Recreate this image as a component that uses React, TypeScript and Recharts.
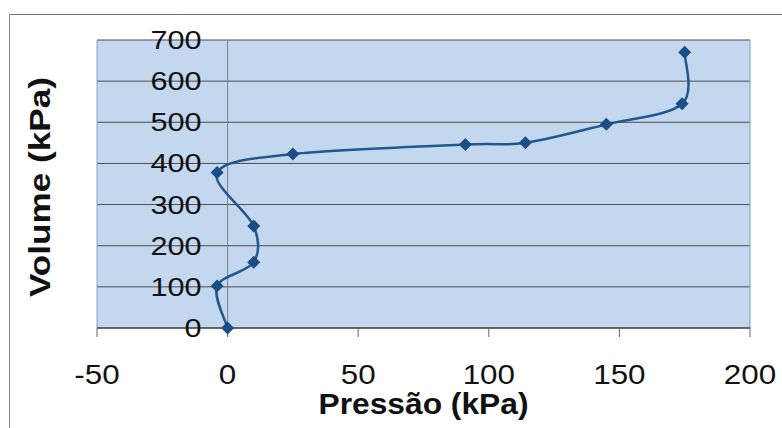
import {
  CartesianGrid,
  Line,
  LineChart,
  ReferenceLine,
  XAxis,
  YAxis,
} from "recharts";

// Pressão x Volume (leituras do ensaio)
const pressao = [0, -4, 10, 10, -4, 25, 91, 114, 145, 174, 175];
const volume = [0, 102, 160, 248, 378, 423, 446, 450, 495, 545, 670];

const xTicks = [-50, 0, 50, 100, 150, 200];
const yTicks = [0, 100, 200, 300, 400, 500, 600, 700];

const data = pressao.map((p, i) => ({ p, v: volume[i] }));

const FONT = '"Liberation Sans", Arial, sans-serif';
const PLOT_LEFT = 97;
const PLOT_W = 653;

// largura aproximada (Arial) para esticar os rótulos como no original
const advance = (s: string, size: number) =>
  s.split("").reduce((w, c) => w + (c === "-" ? 0.333 : 0.556), 0) * size;

// suavização tipo Excel (Catmull-Rom em Bézier)
function excelSmooth(context: any) {
  let pts: number[][] = [];
  return {
    areaStart() {},
    areaEnd() {},
    lineStart() {
      pts = [];
    },
    point(x: number, y: number) {
      pts.push([+x, +y]);
    },
    lineEnd() {
      if (!pts.length) return;
      context.moveTo(pts[0][0], pts[0][1]);
      for (let i = 0; i < pts.length - 1; i++) {
        const p0 = pts[i - 1] || pts[i];
        const p1 = pts[i];
        const p2 = pts[i + 1];
        const p3 = pts[i + 2] || p2;
        context.bezierCurveTo(
          p1[0] + (p2[0] - p0[0]) / 6,
          p1[1] + (p2[1] - p0[1]) / 6,
          p2[0] - (p3[0] - p1[0]) / 6,
          p2[1] - (p3[1] - p1[1]) / 6,
          p2[0],
          p2[1]
        );
      }
    },
  };
}

function Diamond(props: any) {
  const { cx, cy } = props;
  if (cx == null || cy == null) return null;
  return (
    <path
      d={`M${cx},${cy - 6.5}L${cx + 6.5},${cy}L${cx},${cy + 6.5}L${cx - 6.5},${cy}Z`}
      fill="#1b4d86"
    />
  );
}

function XTick(props: any) {
  const { x, y, payload } = props;
  const s = String(payload.value);
  return (
    <text
      x={x}
      y={y}
      dy={45}
      textAnchor="middle"
      fontFamily={FONT}
      fontSize={28}
      fill="#111"
      textLength={advance(s, 28) * 1.12}
      lengthAdjust="spacingAndGlyphs"
    >
      {s}
    </text>
  );
}

// eixo vertical cruza em x = 0
const zeroX =
  PLOT_LEFT + ((0 - xTicks[0]) / (xTicks[xTicks.length - 1] - xTicks[0])) * PLOT_W;

function YTick(props: any) {
  const { y, payload } = props;
  const s = String(payload.value);
  return (
    <text
      x={zeroX - 26}
      y={y}
      dy={9}
      textAnchor="end"
      fontFamily={FONT}
      fontSize={26}
      fill="#111"
      textLength={advance(s, 26) * 1.18}
      lengthAdjust="spacingAndGlyphs"
    >
      {s}
    </text>
  );
}

function XTitle(props: any) {
  const { viewBox } = props;
  return (
    <text
      x={viewBox.x + viewBox.width / 2}
      y={viewBox.y + viewBox.height}
      textAnchor="middle"
      fontFamily={FONT}
      fontSize={30}
      fontWeight="bold"
      fill="#111"
      textLength={210}
      lengthAdjust="spacingAndGlyphs"
    >
      Pressão (kPa)
    </text>
  );
}

function YTitle(props: any) {
  const { viewBox } = props;
  const x = 50;
  const y = viewBox.y + viewBox.height / 2 + 3;
  return (
    <text
      x={x}
      y={y}
      transform={`rotate(-90, ${x}, ${y})`}
      textAnchor="middle"
      fontFamily={FONT}
      fontSize={30}
      fontWeight="bold"
      fill="#111"
      textLength={220}
      lengthAdjust="spacingAndGlyphs"
    >
      Volume (kPa)
    </text>
  );
}

export default function App() {
  return (
    <div
      style={{
        position: "absolute",
        left: 0,
        top: 0,
        width: 782,
        height: 428,
        overflow: "hidden",
        background: "#fff",
      }}
    >
      <div
        style={{
          position: "absolute",
          left: 9,
          top: 14,
          width: 800,
          height: 500,
          borderTop: "1px solid #7a7a7a",
          borderLeft: "1px solid #8a8a8a",
        }}
      />
      <div style={{ position: "absolute", left: 0, top: 0 }}>
        <LineChart
          width={782}
          height={428}
          data={data}
          margin={{ top: 40, right: 32, bottom: 14, left: 0 }}
        >
          <CartesianGrid vertical={false} fill="#c3d7ef" stroke="#4d4d4d" />
          <ReferenceLine x={-50} stroke="#8aa3c6" />
          <ReferenceLine x={200} stroke="#7f9cc4" />
          <ReferenceLine x={0} stroke="#7f7f7f" />
          <XAxis
            type="number"
            dataKey="p"
            domain={[-50, 200]}
            ticks={xTicks}
            interval={0}
            axisLine={{ stroke: "#333" }}
            tickLine={{ stroke: "#666" }}
            tickSize={9}
            tick={<XTick />}
            height={86}
            label={<XTitle />}
          />
          <YAxis
            type="number"
            domain={[0, 700]}
            ticks={yTicks}
            interval={0}
            width={PLOT_LEFT}
            axisLine={false}
            tickLine={false}
            tick={<YTick />}
            label={<YTitle />}
          />
          <Line
            dataKey="v"
            type={excelSmooth as any}
            stroke="#22578f"
            strokeWidth={2.5}
            dot={<Diamond />}
            activeDot={false}
            isAnimationActive={false}
          />
        </LineChart>
      </div>
    </div>
  );
}
